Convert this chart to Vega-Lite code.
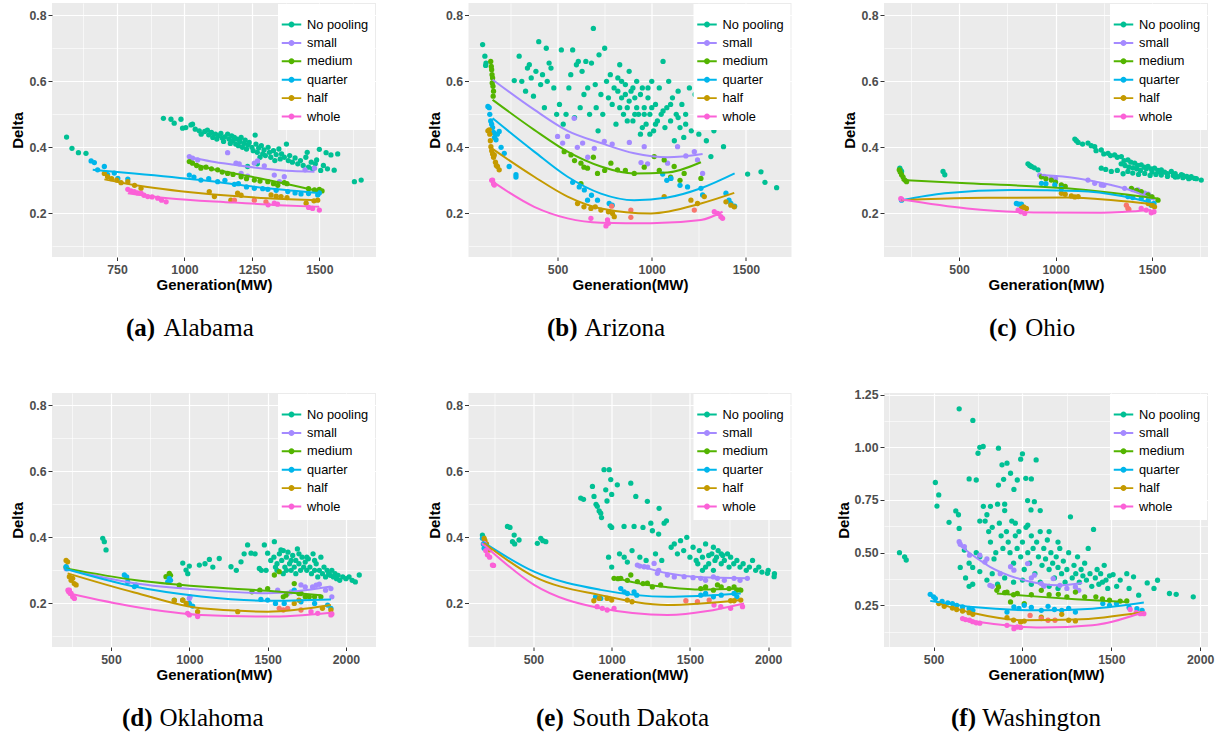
{
"$schema":"https://vega.github.io/schema/vega-lite/v6.json",
"padding":{"left":10,"top":3,"right":5,"bottom":2},
"resolve":{"scale":{"color":"independent"},"legend":{"color":"independent"}},
"concat":[
{"width":324,"height":254,
 "title":{"text":"(a)","subtitle":"\u200b\u00a0\u00a0\u00a0\u00a0\u00a0\u00a0Alabama","dx":-88,"align":"left","anchor":"middle"},
 "encoding":{
  "x":{"field":"x","type":"quantitative","title":"Generation(MW)","scale":{"domain":[509,1710],"nice":false,"zero":false},
       "axis":{"values":[625,750,875,1000,1125,1250,1375,1500,1625],"format":"d","labelExpr":"datum.value % 250 == 0 ? datum.label : ''",
               "gridWidth":{"condition":{"test":"datum.value % 250 == 0","value":1.2},"value":0.6},
               "tickOpacity":{"condition":{"test":"datum.value % 250 == 0","value":1},"value":0}}},
  "y":{"field":"y","type":"quantitative","title":"Delta","scale":{"domain":[0.068,0.837],"nice":false,"zero":false},
       "axis":{"values":[0.1,0.2,0.3,0.4,0.5,0.6,0.7,0.8],"format":".1f","labelExpr":"round(datum.value*10) % 2 == 0 ? datum.label : ''",
               "gridWidth":{"condition":{"test":"round(datum.value*10) % 2 == 0","value":1.2},"value":0.6},
               "tickOpacity":{"condition":{"test":"round(datum.value*10) % 2 == 0","value":1},"value":0}}}
 },
 "layer":[
  {"data":{"name":"pa"},"mark":{"type":"circle","size":28,"opacity":1},
   "encoding":{"color":{"field":"g","type":"nominal","scale":{"domain":["No pooling","small","medium","quarter","half","whole","other"],"range":["#00C094","#A58AFF","#53B400","#00B6EB","#C49A00","#FB61D7","#F8766D"]},
     "legend":{"title":" ","values":["No pooling","small","medium","quarter","half","whole"],"symbolType":"M-1.3,-0.13H1.3V0.13H-1.3Z M0.4,0A0.4,0.4,0,1,1,-0.4,0A0.4,0.4,0,1,1,0.4,0Z"}}}},
  {"data":{"name":"ca"},"mark":{"type":"line","strokeWidth":2,"interpolate":"monotone"},
   "encoding":{"color":{"field":"g","type":"nominal","scale":{"domain":["No pooling","small","medium","quarter","half","whole","other"],"range":["#00C094","#A58AFF","#53B400","#00B6EB","#C49A00","#FB61D7","#F8766D"]},"legend":null}}}
 ]},
{"width":323,"height":254,
 "title":{"text":"(b)","subtitle":"\u200b\u00a0\u00a0\u00a0\u00a0\u00a0\u00a0Arizona","dx":-83,"align":"left","anchor":"middle"},
 "encoding":{
  "x":{"field":"x","type":"quantitative","title":"Generation(MW)","scale":{"domain":[27,1742],"nice":false,"zero":false},
       "axis":{"values":[250,500,750,1000,1250,1500],"format":"d","labelExpr":"datum.value % 500 == 0 ? datum.label : ''",
               "gridWidth":{"condition":{"test":"datum.value % 500 == 0","value":1.2},"value":0.6},
               "tickOpacity":{"condition":{"test":"datum.value % 500 == 0","value":1},"value":0}}},
  "y":{"field":"y","type":"quantitative","title":"Delta","scale":{"domain":[0.068,0.837],"nice":false,"zero":false},
       "axis":{"values":[0.1,0.2,0.3,0.4,0.5,0.6,0.7,0.8],"format":".1f","labelExpr":"round(datum.value*10) % 2 == 0 ? datum.label : ''",
               "gridWidth":{"condition":{"test":"round(datum.value*10) % 2 == 0","value":1.2},"value":0.6},
               "tickOpacity":{"condition":{"test":"round(datum.value*10) % 2 == 0","value":1},"value":0}}}
 },
 "layer":[
  {"data":{"name":"pb"},"mark":{"type":"circle","size":28,"opacity":1},
   "encoding":{"color":{"field":"g","type":"nominal","scale":{"domain":["No pooling","small","medium","quarter","half","whole","other"],"range":["#00C094","#A58AFF","#53B400","#00B6EB","#C49A00","#FB61D7","#F8766D"]},
     "legend":{"title":" ","values":["No pooling","small","medium","quarter","half","whole"],"symbolType":"M-1.3,-0.13H1.3V0.13H-1.3Z M0.4,0A0.4,0.4,0,1,1,-0.4,0A0.4,0.4,0,1,1,0.4,0Z"}}}},
  {"data":{"name":"cb"},"mark":{"type":"line","strokeWidth":2,"interpolate":"monotone"},
   "encoding":{"color":{"field":"g","type":"nominal","scale":{"domain":["No pooling","small","medium","quarter","half","whole","other"],"range":["#00C094","#A58AFF","#53B400","#00B6EB","#C49A00","#FB61D7","#F8766D"]},"legend":null}}}
 ]},
{"width":324,"height":254,
 "title":{"text":"(c)","subtitle":"\u200b\u00a0\u00a0\u00a0\u00a0\u00a0\u2009Ohio","dx":-57,"align":"left","anchor":"middle"},
 "encoding":{
  "x":{"field":"x","type":"quantitative","title":"Generation(MW)","scale":{"domain":[111,1790],"nice":false,"zero":false},
       "axis":{"values":[250,500,750,1000,1250,1500,1750],"format":"d","labelExpr":"datum.value % 500 == 0 ? datum.label : ''",
               "gridWidth":{"condition":{"test":"datum.value % 500 == 0","value":1.2},"value":0.6},
               "tickOpacity":{"condition":{"test":"datum.value % 500 == 0","value":1},"value":0}}},
  "y":{"field":"y","type":"quantitative","title":"Delta","scale":{"domain":[0.068,0.837],"nice":false,"zero":false},
       "axis":{"values":[0.1,0.2,0.3,0.4,0.5,0.6,0.7,0.8],"format":".1f","labelExpr":"round(datum.value*10) % 2 == 0 ? datum.label : ''",
               "gridWidth":{"condition":{"test":"round(datum.value*10) % 2 == 0","value":1.2},"value":0.6},
               "tickOpacity":{"condition":{"test":"round(datum.value*10) % 2 == 0","value":1},"value":0}}}
 },
 "layer":[
  {"data":{"name":"pc"},"mark":{"type":"circle","size":28,"opacity":1},
   "encoding":{"color":{"field":"g","type":"nominal","scale":{"domain":["No pooling","small","medium","quarter","half","whole","other"],"range":["#00C094","#A58AFF","#53B400","#00B6EB","#C49A00","#FB61D7","#F8766D"]},
     "legend":{"title":" ","values":["No pooling","small","medium","quarter","half","whole"],"symbolType":"M-1.3,-0.13H1.3V0.13H-1.3Z M0.4,0A0.4,0.4,0,1,1,-0.4,0A0.4,0.4,0,1,1,0.4,0Z"}}}},
  {"data":{"name":"cc"},"mark":{"type":"line","strokeWidth":2,"interpolate":"monotone"},
   "encoding":{"color":{"field":"g","type":"nominal","scale":{"domain":["No pooling","small","medium","quarter","half","whole","other"],"range":["#00C094","#A58AFF","#53B400","#00B6EB","#C49A00","#FB61D7","#F8766D"]},"legend":null}}}
 ]},
{"width":324,"height":254,
 "title":{"text":"(d)","subtitle":"\u200b\u00a0\u00a0\u00a0\u00a0\u00a0\u00a0Oklahoma","dx":-92,"align":"left","anchor":"middle"},
 "encoding":{
  "x":{"field":"x","type":"quantitative","title":"Generation(MW)","scale":{"domain":[123,2192],"nice":false,"zero":false},
       "axis":{"values":[250,500,750,1000,1250,1500,1750,2000],"format":"d","labelExpr":"datum.value % 500 == 0 ? datum.label : ''",
               "gridWidth":{"condition":{"test":"datum.value % 500 == 0","value":1.2},"value":0.6},
               "tickOpacity":{"condition":{"test":"datum.value % 500 == 0","value":1},"value":0}}},
  "y":{"field":"y","type":"quantitative","title":"Delta","scale":{"domain":[0.068,0.837],"nice":false,"zero":false},
       "axis":{"values":[0.1,0.2,0.3,0.4,0.5,0.6,0.7,0.8],"format":".1f","labelExpr":"round(datum.value*10) % 2 == 0 ? datum.label : ''",
               "gridWidth":{"condition":{"test":"round(datum.value*10) % 2 == 0","value":1.2},"value":0.6},
               "tickOpacity":{"condition":{"test":"round(datum.value*10) % 2 == 0","value":1},"value":0}}}
 },
 "layer":[
  {"data":{"name":"pd"},"mark":{"type":"circle","size":28,"opacity":1},
   "encoding":{"color":{"field":"g","type":"nominal","scale":{"domain":["No pooling","small","medium","quarter","half","whole","other"],"range":["#00C094","#A58AFF","#53B400","#00B6EB","#C49A00","#FB61D7","#F8766D"]},
     "legend":{"title":" ","values":["No pooling","small","medium","quarter","half","whole"],"symbolType":"M-1.3,-0.13H1.3V0.13H-1.3Z M0.4,0A0.4,0.4,0,1,1,-0.4,0A0.4,0.4,0,1,1,0.4,0Z"}}}},
  {"data":{"name":"cd"},"mark":{"type":"line","strokeWidth":2,"interpolate":"monotone"},
   "encoding":{"color":{"field":"g","type":"nominal","scale":{"domain":["No pooling","small","medium","quarter","half","whole","other"],"range":["#00C094","#A58AFF","#53B400","#00B6EB","#C49A00","#FB61D7","#F8766D"]},"legend":null}}}
 ]},
{"width":323,"height":254,
 "title":{"text":"(e)","subtitle":"\u200b\u00a0\u00a0\u00a0\u00a0\u00a0\u2009South Dakota","dx":-94,"align":"left","anchor":"middle"},
 "encoding":{
  "x":{"field":"x","type":"quantitative","title":"Generation(MW)","scale":{"domain":[85,2149],"nice":false,"zero":false},
       "axis":{"values":[250,500,750,1000,1250,1500,1750,2000],"format":"d","labelExpr":"datum.value % 500 == 0 ? datum.label : ''",
               "gridWidth":{"condition":{"test":"datum.value % 500 == 0","value":1.2},"value":0.6},
               "tickOpacity":{"condition":{"test":"datum.value % 500 == 0","value":1},"value":0}}},
  "y":{"field":"y","type":"quantitative","title":"Delta","scale":{"domain":[0.068,0.837],"nice":false,"zero":false},
       "axis":{"values":[0.1,0.2,0.3,0.4,0.5,0.6,0.7,0.8],"format":".1f","labelExpr":"round(datum.value*10) % 2 == 0 ? datum.label : ''",
               "gridWidth":{"condition":{"test":"round(datum.value*10) % 2 == 0","value":1.2},"value":0.6},
               "tickOpacity":{"condition":{"test":"round(datum.value*10) % 2 == 0","value":1},"value":0}}}
 },
 "layer":[
  {"data":{"name":"pe"},"mark":{"type":"circle","size":28,"opacity":1},
   "encoding":{"color":{"field":"g","type":"nominal","scale":{"domain":["No pooling","small","medium","quarter","half","whole","other"],"range":["#00C094","#A58AFF","#53B400","#00B6EB","#C49A00","#FB61D7","#F8766D"]},
     "legend":{"title":" ","values":["No pooling","small","medium","quarter","half","whole"],"symbolType":"M-1.3,-0.13H1.3V0.13H-1.3Z M0.4,0A0.4,0.4,0,1,1,-0.4,0A0.4,0.4,0,1,1,0.4,0Z"}}}},
  {"data":{"name":"ce"},"mark":{"type":"line","strokeWidth":2,"interpolate":"monotone"},
   "encoding":{"color":{"field":"g","type":"nominal","scale":{"domain":["No pooling","small","medium","quarter","half","whole","other"],"range":["#00C094","#A58AFF","#53B400","#00B6EB","#C49A00","#FB61D7","#F8766D"]},"legend":null}}}
 ]},
{"width":324,"height":254,
 "title":{"text":"(f)","subtitle":"\u200b\u00a0\u00a0\u00a0\u00a0\u00a0Washington","dx":-95,"align":"left","anchor":"middle"},
 "encoding":{
  "x":{"field":"x","type":"quantitative","title":"Generation(MW)","scale":{"domain":[221,2044],"nice":false,"zero":false},
       "axis":{"values":[250,500,750,1000,1250,1500,1750,2000],"format":"d","labelExpr":"datum.value % 500 == 0 ? datum.label : ''",
               "gridWidth":{"condition":{"test":"datum.value % 500 == 0","value":1.2},"value":0.6},
               "tickOpacity":{"condition":{"test":"datum.value % 500 == 0","value":1},"value":0}}},
  "y":{"field":"y","type":"quantitative","title":"Delta","scale":{"domain":[0.052,1.258],"nice":false,"zero":false},
       "axis":{"values":[0.125,0.25,0.375,0.5,0.625,0.75,0.875,1.0,1.125,1.25],"format":".2f","labelExpr":"round(datum.value*8) % 2 == 0 ? datum.label : ''",
               "gridWidth":{"condition":{"test":"round(datum.value*8) % 2 == 0","value":1.2},"value":0.6},
               "tickOpacity":{"condition":{"test":"round(datum.value*8) % 2 == 0","value":1},"value":0}}}
 },
 "layer":[
  {"data":{"name":"pf"},"mark":{"type":"circle","size":28,"opacity":1},
   "encoding":{"color":{"field":"g","type":"nominal","scale":{"domain":["No pooling","small","medium","quarter","half","whole","other"],"range":["#00C094","#A58AFF","#53B400","#00B6EB","#C49A00","#FB61D7","#F8766D"]},
     "legend":{"title":" ","values":["No pooling","small","medium","quarter","half","whole"],"symbolType":"M-1.3,-0.13H1.3V0.13H-1.3Z M0.4,0A0.4,0.4,0,1,1,-0.4,0A0.4,0.4,0,1,1,0.4,0Z"}}}},
  {"data":{"name":"cf"},"mark":{"type":"line","strokeWidth":2,"interpolate":"monotone"},
   "encoding":{"color":{"field":"g","type":"nominal","scale":{"domain":["No pooling","small","medium","quarter","half","whole","other"],"range":["#00C094","#A58AFF","#53B400","#00B6EB","#C49A00","#FB61D7","#F8766D"]},"legend":null}}}
 ]}
],
"columns":3,
"spacing":{"row":136,"column":92.5},
"bounds":"flush",
"datasets":{
"pa":[
{"g":"No pooling","x":563,"y":0.431},{"g":"No pooling","x":583,"y":0.397},{"g":"No pooling","x":607,"y":0.384},{"g":"No pooling","x":635,"y":0.382},
{"g":"No pooling","x":922,"y":0.488},{"g":"No pooling","x":950,"y":0.485},{"g":"No pooling","x":962,"y":0.473},{"g":"No pooling","x":987,"y":0.485},{"g":"No pooling","x":993,"y":0.458},{"g":"No pooling","x":1005,"y":0.46},{"g":"No pooling","x":1024,"y":0.468},{"g":"No pooling","x":1030,"y":0.47},{"g":"No pooling","x":1040,"y":0.455},{"g":"No pooling","x":1055,"y":0.45},{"g":"No pooling","x":1062,"y":0.44},{"g":"No pooling","x":1075,"y":0.448},{"g":"No pooling","x":1085,"y":0.452},{"g":"No pooling","x":1090,"y":0.438},{"g":"No pooling","x":1100,"y":0.445},{"g":"No pooling","x":1105,"y":0.43},{"g":"No pooling","x":1115,"y":0.44},{"g":"No pooling","x":1120,"y":0.425},{"g":"No pooling","x":1125,"y":0.435},{"g":"No pooling","x":1135,"y":0.442},{"g":"No pooling","x":1140,"y":0.428},{"g":"No pooling","x":1145,"y":0.418},{"g":"No pooling","x":1150,"y":0.432},{"g":"No pooling","x":1160,"y":0.44},{"g":"No pooling","x":1165,"y":0.425},{"g":"No pooling","x":1170,"y":0.412},{"g":"No pooling","x":1175,"y":0.435},{"g":"No pooling","x":1180,"y":0.42},{"g":"No pooling","x":1185,"y":0.43},{"g":"No pooling","x":1190,"y":0.41},{"g":"No pooling","x":1195,"y":0.425},{"g":"No pooling","x":1200,"y":0.405},{"g":"No pooling","x":1205,"y":0.418},{"g":"No pooling","x":1210,"y":0.43},{"g":"No pooling","x":1215,"y":0.4},{"g":"No pooling","x":1220,"y":0.412},{"g":"No pooling","x":1225,"y":0.422},{"g":"No pooling","x":1230,"y":0.395},{"g":"No pooling","x":1235,"y":0.408},{"g":"No pooling","x":1240,"y":0.415},{"g":"No pooling","x":1234,"y":0.342},{"g":"No pooling","x":1250,"y":0.4},{"g":"No pooling","x":1255,"y":0.39},{"g":"No pooling","x":1262,"y":0.437},{"g":"No pooling","x":1265,"y":0.41},{"g":"No pooling","x":1270,"y":0.385},{"g":"No pooling","x":1270,"y":0.35},{"g":"No pooling","x":1275,"y":0.398},{"g":"No pooling","x":1280,"y":0.37},{"g":"No pooling","x":1285,"y":0.405},{"g":"No pooling","x":1290,"y":0.38},{"g":"No pooling","x":1295,"y":0.392},{"g":"No pooling","x":1300,"y":0.375},{"g":"No pooling","x":1310,"y":0.4},{"g":"No pooling","x":1315,"y":0.385},{"g":"No pooling","x":1320,"y":0.37},{"g":"No pooling","x":1330,"y":0.39},{"g":"No pooling","x":1335,"y":0.36},{"g":"No pooling","x":1340,"y":0.378},{"g":"No pooling","x":1350,"y":0.395},{"g":"No pooling","x":1355,"y":0.365},{"g":"No pooling","x":1360,"y":0.38},{"g":"No pooling","x":1370,"y":0.37},{"g":"No pooling","x":1378,"y":0.41},{"g":"No pooling","x":1385,"y":0.36},{"g":"No pooling","x":1390,"y":0.375},{"g":"No pooling","x":1400,"y":0.355},{"g":"No pooling","x":1410,"y":0.368},{"g":"No pooling","x":1420,"y":0.35},{"g":"No pooling","x":1430,"y":0.36},{"g":"No pooling","x":1440,"y":0.345},{"g":"No pooling","x":1450,"y":0.37},{"g":"No pooling","x":1455,"y":0.385},{"g":"No pooling","x":1460,"y":0.34},{"g":"No pooling","x":1470,"y":0.355},{"g":"No pooling","x":1475,"y":0.335},{"g":"No pooling","x":1485,"y":0.35},{"g":"No pooling","x":1490,"y":0.362},{"g":"No pooling","x":1500,"y":0.394},{"g":"No pooling","x":1505,"y":0.33},{"g":"No pooling","x":1515,"y":0.345},{"g":"No pooling","x":1525,"y":0.384},{"g":"No pooling","x":1530,"y":0.335},{"g":"No pooling","x":1543,"y":0.377},{"g":"No pooling","x":1555,"y":0.331},{"g":"No pooling","x":1568,"y":0.38},{"g":"No pooling","x":1630,"y":0.296},{"g":"No pooling","x":1655,"y":0.301},
{"g":"small","x":1018,"y":0.372},{"g":"small","x":1030,"y":0.367},{"g":"small","x":1049,"y":0.362},{"g":"small","x":1160,"y":0.384},{"g":"small","x":1191,"y":0.352},{"g":"small","x":1203,"y":0.35},{"g":"small","x":1210,"y":0.321},{"g":"small","x":1234,"y":0.313},{"g":"small","x":1259,"y":0.352},{"g":"small","x":1271,"y":0.359},{"g":"small","x":1296,"y":0.344},{"g":"small","x":1333,"y":0.316},{"g":"small","x":1352,"y":0.296},{"g":"small","x":1370,"y":0.311},{"g":"small","x":1447,"y":0.332},{"g":"small","x":1482,"y":0.337},
{"g":"medium","x":1018,"y":0.357},{"g":"medium","x":1030,"y":0.352},{"g":"medium","x":1045,"y":0.345},{"g":"medium","x":1061,"y":0.337},{"g":"medium","x":1080,"y":0.34},{"g":"medium","x":1100,"y":0.335},{"g":"medium","x":1123,"y":0.332},{"g":"medium","x":1140,"y":0.325},{"g":"medium","x":1160,"y":0.321},{"g":"medium","x":1180,"y":0.318},{"g":"medium","x":1210,"y":0.311},{"g":"medium","x":1230,"y":0.305},{"g":"medium","x":1259,"y":0.301},{"g":"medium","x":1280,"y":0.298},{"g":"medium","x":1309,"y":0.296},{"g":"medium","x":1330,"y":0.29},{"g":"medium","x":1346,"y":0.285},{"g":"medium","x":1370,"y":0.293},{"g":"medium","x":1380,"y":0.29},{"g":"medium","x":1460,"y":0.275},{"g":"medium","x":1482,"y":0.271},{"g":"medium","x":1500,"y":0.273},{"g":"medium","x":1510,"y":0.268},
{"g":"quarter","x":654,"y":0.359},{"g":"quarter","x":666,"y":0.354},{"g":"quarter","x":678,"y":0.332},{"g":"quarter","x":703,"y":0.342},{"g":"quarter","x":715,"y":0.317},{"g":"quarter","x":740,"y":0.322},{"g":"quarter","x":753,"y":0.306},{"g":"quarter","x":790,"y":0.304},{"g":"quarter","x":1018,"y":0.316},{"g":"quarter","x":1035,"y":0.31},{"g":"quarter","x":1061,"y":0.301},{"g":"quarter","x":1090,"y":0.305},{"g":"quarter","x":1123,"y":0.296},{"g":"quarter","x":1150,"y":0.3},{"g":"quarter","x":1185,"y":0.288},{"g":"quarter","x":1200,"y":0.29},{"g":"quarter","x":1230,"y":0.28},{"g":"quarter","x":1259,"y":0.276},{"g":"quarter","x":1290,"y":0.275},{"g":"quarter","x":1309,"y":0.273},{"g":"quarter","x":1340,"y":0.27},{"g":"quarter","x":1383,"y":0.266},{"g":"quarter","x":1410,"y":0.262},{"g":"quarter","x":1432,"y":0.259},{"g":"quarter","x":1460,"y":0.26},{"g":"quarter","x":1494,"y":0.256},{"g":"quarter","x":1500,"y":0.262},
{"g":"half","x":703,"y":0.321},{"g":"half","x":715,"y":0.311},{"g":"half","x":730,"y":0.305},{"g":"half","x":749,"y":0.301},{"g":"half","x":765,"y":0.293},{"g":"half","x":790,"y":0.296},{"g":"half","x":815,"y":0.285},{"g":"half","x":839,"y":0.276},{"g":"half","x":1092,"y":0.266},{"g":"half","x":1111,"y":0.251},{"g":"half","x":1172,"y":0.24},{"g":"half","x":1197,"y":0.261},{"g":"half","x":1210,"y":0.255},{"g":"half","x":1321,"y":0.256},{"g":"half","x":1340,"y":0.252},{"g":"half","x":1358,"y":0.251},{"g":"half","x":1380,"y":0.248},{"g":"half","x":1451,"y":0.231},{"g":"half","x":1480,"y":0.238},{"g":"half","x":1494,"y":0.24},
{"g":"whole","x":790,"y":0.273},{"g":"whole","x":802,"y":0.268},{"g":"whole","x":814,"y":0.266},{"g":"whole","x":826,"y":0.262},{"g":"whole","x":839,"y":0.261},{"g":"whole","x":850,"y":0.255},{"g":"whole","x":864,"y":0.251},{"g":"whole","x":880,"y":0.25},{"g":"whole","x":901,"y":0.246},{"g":"whole","x":915,"y":0.24},{"g":"whole","x":932,"y":0.235},{"g":"whole","x":1310,"y":0.226},{"g":"whole","x":1333,"y":0.231},{"g":"whole","x":1345,"y":0.228},{"g":"whole","x":1460,"y":0.218},{"g":"whole","x":1475,"y":0.215},{"g":"whole","x":1500,"y":0.21},
{"g":"other","x":1185,"y":0.24},{"g":"other","x":1259,"y":0.24},{"g":"other","x":1302,"y":0.235}
],
"ca":[
{"g":"small","x":1012,"y":0.372},{"g":"small","x":1100,"y":0.357},{"g":"small","x":1185,"y":0.347},{"g":"small","x":1300,"y":0.335},{"g":"small","x":1400,"y":0.328},{"g":"small","x":1482,"y":0.326},
{"g":"medium","x":1018,"y":0.355},{"g":"medium","x":1100,"y":0.335},{"g":"medium","x":1185,"y":0.321},{"g":"medium","x":1309,"y":0.301},{"g":"medium","x":1400,"y":0.285},{"g":"medium","x":1494,"y":0.268},
{"g":"quarter","x":660,"y":0.332},{"g":"quarter","x":814,"y":0.321},{"g":"quarter","x":1061,"y":0.301},{"g":"quarter","x":1309,"y":0.276},{"g":"quarter","x":1506,"y":0.261},
{"g":"half","x":703,"y":0.303},{"g":"half","x":814,"y":0.286},{"g":"half","x":1061,"y":0.261},{"g":"half","x":1309,"y":0.246},{"g":"half","x":1500,"y":0.24},
{"g":"whole","x":790,"y":0.261},{"g":"whole","x":938,"y":0.246},{"g":"whole","x":1185,"y":0.233},{"g":"whole","x":1350,"y":0.225},{"g":"whole","x":1500,"y":0.22}
],
"pb":[
{"g":"No pooling","x":102,"y":0.711},{"g":"No pooling","x":114,"y":0.676},{"g":"No pooling","x":118,"y":0.648},{"g":"No pooling","x":120,"y":0.655},
{"g":"No pooling","x":270,"y":0.602},{"g":"No pooling","x":296,"y":0.676},{"g":"No pooling","x":310,"y":0.6},{"g":"No pooling","x":330,"y":0.57},{"g":"No pooling","x":340,"y":0.64},{"g":"No pooling","x":350,"y":0.65},{"g":"No pooling","x":360,"y":0.61},{"g":"No pooling","x":372,"y":0.555},{"g":"No pooling","x":385,"y":0.63},{"g":"No pooling","x":400,"y":0.72},{"g":"No pooling","x":410,"y":0.59},{"g":"No pooling","x":420,"y":0.62},{"g":"No pooling","x":430,"y":0.52},{"g":"No pooling","x":440,"y":0.7},{"g":"No pooling","x":445,"y":0.6},{"g":"No pooling","x":455,"y":0.655},{"g":"No pooling","x":465,"y":0.64},{"g":"No pooling","x":480,"y":0.58},{"g":"No pooling","x":495,"y":0.5},{"g":"No pooling","x":510,"y":0.53},{"g":"No pooling","x":520,"y":0.695},{"g":"No pooling","x":530,"y":0.47},{"g":"No pooling","x":545,"y":0.5},{"g":"No pooling","x":560,"y":0.58},{"g":"No pooling","x":570,"y":0.62},{"g":"No pooling","x":580,"y":0.695},{"g":"No pooling","x":590,"y":0.49},{"g":"No pooling","x":600,"y":0.65},{"g":"No pooling","x":610,"y":0.66},{"g":"No pooling","x":620,"y":0.52},{"g":"No pooling","x":630,"y":0.63},{"g":"No pooling","x":640,"y":0.56},{"g":"No pooling","x":650,"y":0.66},{"g":"No pooling","x":660,"y":0.58},{"g":"No pooling","x":670,"y":0.5},{"g":"No pooling","x":680,"y":0.655},{"g":"No pooling","x":690,"y":0.76},{"g":"No pooling","x":700,"y":0.59},{"g":"No pooling","x":705,"y":0.52},{"g":"No pooling","x":715,"y":0.45},{"g":"No pooling","x":720,"y":0.68},{"g":"No pooling","x":730,"y":0.56},{"g":"No pooling","x":740,"y":0.5},{"g":"No pooling","x":750,"y":0.7},{"g":"No pooling","x":760,"y":0.6},{"g":"No pooling","x":770,"y":0.55},{"g":"No pooling","x":780,"y":0.62},{"g":"No pooling","x":790,"y":0.53},{"g":"No pooling","x":800,"y":0.58},{"g":"No pooling","x":810,"y":0.47},{"g":"No pooling","x":820,"y":0.61},{"g":"No pooling","x":830,"y":0.65},{"g":"No pooling","x":840,"y":0.55},{"g":"No pooling","x":850,"y":0.5},{"g":"No pooling","x":860,"y":0.59},{"g":"No pooling","x":870,"y":0.52},{"g":"No pooling","x":880,"y":0.63},{"g":"No pooling","x":890,"y":0.57},{"g":"No pooling","x":900,"y":0.48},{"g":"No pooling","x":910,"y":0.55},{"g":"No pooling","x":920,"y":0.6},{"g":"No pooling","x":930,"y":0.5},{"g":"No pooling","x":940,"y":0.44},{"g":"No pooling","x":950,"y":0.58},{"g":"No pooling","x":960,"y":0.52},{"g":"No pooling","x":970,"y":0.47},{"g":"No pooling","x":980,"y":0.55},{"g":"No pooling","x":990,"y":0.5},{"g":"No pooling","x":1000,"y":0.6},{"g":"No pooling","x":1010,"y":0.45},{"g":"No pooling","x":1020,"y":0.53},{"g":"No pooling","x":1030,"y":0.48},{"g":"No pooling","x":1040,"y":0.58},{"g":"No pooling","x":1050,"y":0.5},{"g":"No pooling","x":1060,"y":0.66},{"g":"No pooling","x":1070,"y":0.46},{"g":"No pooling","x":1080,"y":0.52},{"g":"No pooling","x":1090,"y":0.6},{"g":"No pooling","x":1100,"y":0.48},{"g":"No pooling","x":1110,"y":0.55},{"g":"No pooling","x":1120,"y":0.42},{"g":"No pooling","x":1130,"y":0.5},{"g":"No pooling","x":1140,"y":0.57},{"g":"No pooling","x":1150,"y":0.46},{"g":"No pooling","x":1160,"y":0.53},{"g":"No pooling","x":1170,"y":0.43},{"g":"No pooling","x":1180,"y":0.5},{"g":"No pooling","x":1200,"y":0.58},{"g":"No pooling","x":1210,"y":0.45},{"g":"No pooling","x":1230,"y":0.56},{"g":"No pooling","x":1250,"y":0.44},{"g":"No pooling","x":1270,"y":0.5},{"g":"No pooling","x":1290,"y":0.42},{"g":"No pooling","x":1314,"y":0.372},{"g":"No pooling","x":1330,"y":0.45},{"g":"No pooling","x":1381,"y":0.402},{"g":"No pooling","x":1509,"y":0.319},{"g":"No pooling","x":1580,"y":0.326},{"g":"No pooling","x":1601,"y":0.294},{"g":"No pooling","x":1663,"y":0.278},
{"g":"No pooling","x":820,"y":0.57},{"g":"No pooling","x":840,"y":0.6},{"g":"No pooling","x":860,"y":0.56},{"g":"No pooling","x":880,"y":0.54},{"g":"No pooling","x":900,"y":0.58},{"g":"No pooling","x":920,"y":0.52},{"g":"No pooling","x":940,"y":0.56},{"g":"No pooling","x":960,"y":0.5},{"g":"No pooling","x":980,"y":0.58},{"g":"No pooling","x":1000,"y":0.52},{"g":"No pooling","x":830,"y":0.52},{"g":"No pooling","x":870,"y":0.48},{"g":"No pooling","x":910,"y":0.5},{"g":"No pooling","x":950,"y":0.46},{"g":"No pooling","x":990,"y":0.44},{"g":"No pooling","x":1020,"y":0.47},{"g":"No pooling","x":1060,"y":0.51},{"g":"No pooling","x":1100,"y":0.53},{"g":"No pooling","x":1140,"y":0.49},{"g":"No pooling","x":1180,"y":0.47},
{"g":"small","x":500,"y":0.433},{"g":"small","x":527,"y":0.413},{"g":"small","x":553,"y":0.433},{"g":"small","x":588,"y":0.488},{"g":"small","x":605,"y":0.4},{"g":"small","x":633,"y":0.413},{"g":"small","x":660,"y":0.37},{"g":"small","x":695,"y":0.397},{"g":"small","x":748,"y":0.418},{"g":"small","x":790,"y":0.41},{"g":"small","x":881,"y":0.415},{"g":"small","x":943,"y":0.354},{"g":"small","x":960,"y":0.402},{"g":"small","x":978,"y":0.35},{"g":"small","x":1084,"y":0.352},{"g":"small","x":1137,"y":0.402},{"g":"small","x":1181,"y":0.374},{"g":"small","x":1226,"y":0.387},{"g":"small","x":1243,"y":0.362},{"g":"small","x":1270,"y":0.321},
{"g":"medium","x":145,"y":0.66},{"g":"medium","x":148,"y":0.645},{"g":"medium","x":150,"y":0.635},{"g":"medium","x":152,"y":0.62},{"g":"medium","x":155,"y":0.61},{"g":"medium","x":153,"y":0.595},{"g":"medium","x":157,"y":0.585},{"g":"medium","x":160,"y":0.57},{"g":"medium","x":158,"y":0.555},{"g":"medium","x":535,"y":0.387},{"g":"medium","x":571,"y":0.377},{"g":"medium","x":590,"y":0.36},{"g":"medium","x":624,"y":0.352},{"g":"medium","x":624,"y":0.29},{"g":"medium","x":640,"y":0.34},{"g":"medium","x":659,"y":0.337},{"g":"medium","x":690,"y":0.37},{"g":"medium","x":712,"y":0.321},{"g":"medium","x":750,"y":0.33},{"g":"medium","x":783,"y":0.352},{"g":"medium","x":818,"y":0.332},{"g":"medium","x":860,"y":0.33},{"g":"medium","x":907,"y":0.321},{"g":"medium","x":960,"y":0.34},{"g":"medium","x":1013,"y":0.372},{"g":"medium","x":1040,"y":0.33},{"g":"medium","x":1066,"y":0.362},{"g":"medium","x":1100,"y":0.31},{"g":"medium","x":1119,"y":0.342},{"g":"medium","x":1150,"y":0.3},{"g":"medium","x":1172,"y":0.321},{"g":"medium","x":1261,"y":0.306},
{"g":"quarter","x":130,"y":0.524},{"g":"quarter","x":137,"y":0.52},{"g":"quarter","x":140,"y":0.5},{"g":"quarter","x":145,"y":0.48},{"g":"quarter","x":150,"y":0.47},{"g":"quarter","x":155,"y":0.46},{"g":"quarter","x":160,"y":0.445},{"g":"quarter","x":165,"y":0.43},{"g":"quarter","x":173,"y":0.423},{"g":"quarter","x":180,"y":0.44},{"g":"quarter","x":190,"y":0.448},{"g":"quarter","x":200,"y":0.4},{"g":"quarter","x":217,"y":0.382},{"g":"quarter","x":243,"y":0.342},{"g":"quarter","x":279,"y":0.317},{"g":"quarter","x":279,"y":0.31},{"g":"quarter","x":580,"y":0.294},{"g":"quarter","x":615,"y":0.28},{"g":"quarter","x":642,"y":0.271},{"g":"quarter","x":659,"y":0.24},{"g":"quarter","x":680,"y":0.255},{"g":"quarter","x":712,"y":0.24},{"g":"quarter","x":774,"y":0.23},{"g":"quarter","x":790,"y":0.225},{"g":"quarter","x":1058,"y":0.319},{"g":"quarter","x":1080,"y":0.3},{"g":"quarter","x":1102,"y":0.306},{"g":"quarter","x":1150,"y":0.285},{"g":"quarter","x":1190,"y":0.28},{"g":"quarter","x":1261,"y":0.276},{"g":"quarter","x":1270,"y":0.256},{"g":"quarter","x":1394,"y":0.261},{"g":"quarter","x":1410,"y":0.24},{"g":"quarter","x":1420,"y":0.23},{"g":"quarter","x":1440,"y":0.222},
{"g":"half","x":130,"y":0.45},{"g":"half","x":137,"y":0.453},{"g":"half","x":140,"y":0.44},{"g":"half","x":143,"y":0.42},{"g":"half","x":146,"y":0.402},{"g":"half","x":150,"y":0.39},{"g":"half","x":155,"y":0.38},{"g":"half","x":160,"y":0.37},{"g":"half","x":164,"y":0.377},{"g":"half","x":170,"y":0.355},{"g":"half","x":175,"y":0.345},{"g":"half","x":181,"y":0.342},{"g":"half","x":190,"y":0.332},{"g":"half","x":606,"y":0.23},{"g":"half","x":640,"y":0.22},{"g":"half","x":677,"y":0.215},{"g":"half","x":700,"y":0.22},{"g":"half","x":730,"y":0.21},{"g":"half","x":770,"y":0.205},{"g":"half","x":792,"y":0.2},{"g":"half","x":801,"y":0.19},{"g":"half","x":1066,"y":0.251},{"g":"half","x":1208,"y":0.24},{"g":"half","x":1243,"y":0.23},{"g":"half","x":1279,"y":0.251},{"g":"half","x":1394,"y":0.235},{"g":"half","x":1420,"y":0.225},{"g":"half","x":1438,"y":0.22},
{"g":"whole","x":150,"y":0.3},{"g":"whole","x":155,"y":0.301},{"g":"whole","x":160,"y":0.29},{"g":"whole","x":164,"y":0.286},{"g":"whole","x":677,"y":0.185},{"g":"whole","x":765,"y":0.18},{"g":"whole","x":757,"y":0.162},{"g":"whole","x":770,"y":0.17},{"g":"whole","x":1332,"y":0.205},{"g":"whole","x":1350,"y":0.2},{"g":"whole","x":1367,"y":0.19},{"g":"whole","x":1376,"y":0.185},
{"g":"other","x":787,"y":0.222},{"g":"other","x":889,"y":0.21},{"g":"other","x":889,"y":0.188},{"g":"other","x":1226,"y":0.21}
],
"cb":[
{"g":"small","x":155,"y":0.605},{"g":"small","x":376,"y":0.514},{"g":"small","x":553,"y":0.45},{"g":"small","x":730,"y":0.413},{"g":"small","x":907,"y":0.382},{"g":"small","x":1084,"y":0.37},{"g":"small","x":1270,"y":0.38},
{"g":"medium","x":155,"y":0.544},{"g":"medium","x":376,"y":0.453},{"g":"medium","x":553,"y":0.387},{"g":"medium","x":730,"y":0.342},{"g":"medium","x":907,"y":0.321},{"g":"medium","x":1084,"y":0.324},{"g":"medium","x":1261,"y":0.355},
{"g":"quarter","x":155,"y":0.488},{"g":"quarter","x":376,"y":0.387},{"g":"quarter","x":553,"y":0.311},{"g":"quarter","x":730,"y":0.26},{"g":"quarter","x":907,"y":0.24},{"g":"quarter","x":1084,"y":0.248},{"g":"quarter","x":1261,"y":0.276},{"g":"quarter","x":1440,"y":0.321},
{"g":"half","x":137,"y":0.402},{"g":"half","x":376,"y":0.311},{"g":"half","x":553,"y":0.251},{"g":"half","x":730,"y":0.215},{"g":"half","x":996,"y":0.2},{"g":"half","x":1261,"y":0.23},{"g":"half","x":1438,"y":0.262},
{"g":"whole","x":155,"y":0.296},{"g":"whole","x":376,"y":0.22},{"g":"whole","x":553,"y":0.185},{"g":"whole","x":730,"y":0.172},{"g":"whole","x":996,"y":0.17},{"g":"whole","x":1261,"y":0.18},{"g":"whole","x":1376,"y":0.205}
],
"pc":[
{"g":"No pooling","x":193,"y":0.337},{"g":"No pooling","x":198,"y":0.33},{"g":"No pooling","x":202,"y":0.327},{"g":"No pooling","x":417,"y":0.327},{"g":"No pooling","x":426,"y":0.317},{"g":"No pooling","x":857,"y":0.35},{"g":"No pooling","x":866,"y":0.345},{"g":"No pooling","x":875,"y":0.342},{"g":"No pooling","x":890,"y":0.338},{"g":"No pooling","x":909,"y":0.332},
{"g":"No pooling","x":1100,"y":0.425},{"g":"No pooling","x":1108,"y":0.42},{"g":"No pooling","x":1117,"y":0.415},{"g":"No pooling","x":1140,"y":0.41},{"g":"No pooling","x":1168,"y":0.413},{"g":"No pooling","x":1185,"y":0.405},{"g":"No pooling","x":1203,"y":0.402},{"g":"No pooling","x":1210,"y":0.39},{"g":"No pooling","x":1237,"y":0.392},{"g":"No pooling","x":1250,"y":0.38},{"g":"No pooling","x":1272,"y":0.382},{"g":"No pooling","x":1285,"y":0.375},{"g":"No pooling","x":1306,"y":0.377},{"g":"No pooling","x":1320,"y":0.37},{"g":"No pooling","x":1341,"y":0.372},{"g":"No pooling","x":1355,"y":0.36},{"g":"No pooling","x":1375,"y":0.362},{"g":"No pooling","x":1390,"y":0.355},{"g":"No pooling","x":1410,"y":0.352},{"g":"No pooling","x":1425,"y":0.345},{"g":"No pooling","x":1444,"y":0.347},{"g":"No pooling","x":1460,"y":0.34},{"g":"No pooling","x":1479,"y":0.342},{"g":"No pooling","x":1495,"y":0.335},{"g":"No pooling","x":1513,"y":0.337},{"g":"No pooling","x":1530,"y":0.33},{"g":"No pooling","x":1548,"y":0.332},{"g":"No pooling","x":1565,"y":0.325},{"g":"No pooling","x":1600,"y":0.327},{"g":"No pooling","x":1620,"y":0.32},{"g":"No pooling","x":1652,"y":0.317},{"g":"No pooling","x":1680,"y":0.312},{"g":"No pooling","x":1703,"y":0.311},{"g":"No pooling","x":1730,"y":0.305},{"g":"No pooling","x":1755,"y":0.301},
{"g":"No pooling","x":1237,"y":0.337},{"g":"No pooling","x":1260,"y":0.333},{"g":"No pooling","x":1289,"y":0.327},{"g":"No pooling","x":1320,"y":0.33},{"g":"No pooling","x":1350,"y":0.32},{"g":"No pooling","x":1375,"y":0.327},{"g":"No pooling","x":1400,"y":0.322},{"g":"No pooling","x":1430,"y":0.318},{"g":"No pooling","x":1462,"y":0.321},{"g":"No pooling","x":1490,"y":0.315},{"g":"No pooling","x":1520,"y":0.318},{"g":"No pooling","x":1548,"y":0.316},{"g":"No pooling","x":1580,"y":0.312},{"g":"No pooling","x":1610,"y":0.315},{"g":"No pooling","x":1634,"y":0.311},{"g":"No pooling","x":1660,"y":0.308},{"g":"No pooling","x":1690,"y":0.305},{"g":"No pooling","x":1721,"y":0.306},
{"g":"No pooling","x":1340,"y":0.35},{"g":"No pooling","x":1360,"y":0.345},{"g":"No pooling","x":1380,"y":0.34},{"g":"No pooling","x":1400,"y":0.338},{"g":"No pooling","x":1420,"y":0.335},{"g":"No pooling","x":1440,"y":0.33},{"g":"No pooling","x":1470,"y":0.335},{"g":"No pooling","x":1500,"y":0.325},{"g":"No pooling","x":1540,"y":0.325},{"g":"No pooling","x":1580,"y":0.32},{"g":"No pooling","x":1620,"y":0.31},{"g":"No pooling","x":1660,"y":0.315},{"g":"No pooling","x":1700,"y":0.308},
{"g":"small","x":918,"y":0.316},{"g":"small","x":940,"y":0.312},{"g":"small","x":978,"y":0.306},{"g":"small","x":1000,"y":0.305},{"g":"small","x":1168,"y":0.301},{"g":"small","x":1203,"y":0.291},{"g":"small","x":1237,"y":0.286},{"g":"small","x":1250,"y":0.285},{"g":"small","x":1358,"y":0.276},{"g":"small","x":1400,"y":0.272},{"g":"small","x":1427,"y":0.271},{"g":"small","x":1462,"y":0.261},{"g":"small","x":1480,"y":0.258},{"g":"small","x":1496,"y":0.251},
{"g":"medium","x":190,"y":0.332},{"g":"medium","x":195,"y":0.325},{"g":"medium","x":202,"y":0.317},{"g":"medium","x":210,"y":0.31},{"g":"medium","x":219,"y":0.301},{"g":"medium","x":228,"y":0.296},{"g":"medium","x":927,"y":0.311},{"g":"medium","x":950,"y":0.305},{"g":"medium","x":978,"y":0.301},{"g":"medium","x":1000,"y":0.295},{"g":"medium","x":1030,"y":0.286},{"g":"medium","x":1050,"y":0.282},{"g":"medium","x":1393,"y":0.276},{"g":"medium","x":1420,"y":0.27},{"g":"medium","x":1444,"y":0.266},{"g":"medium","x":1479,"y":0.256},{"g":"medium","x":1500,"y":0.25},{"g":"medium","x":1531,"y":0.24},
{"g":"quarter","x":202,"y":0.24},{"g":"quarter","x":797,"y":0.23},{"g":"quarter","x":810,"y":0.228},{"g":"quarter","x":823,"y":0.228},{"g":"quarter","x":927,"y":0.291},{"g":"quarter","x":950,"y":0.29},{"g":"quarter","x":996,"y":0.286},{"g":"quarter","x":1030,"y":0.276},{"g":"quarter","x":1375,"y":0.251},{"g":"quarter","x":1400,"y":0.248},{"g":"quarter","x":1444,"y":0.245},{"g":"quarter","x":1480,"y":0.24},{"g":"quarter","x":1496,"y":0.225},{"g":"quarter","x":1510,"y":0.23},
{"g":"half","x":823,"y":0.215},{"g":"half","x":835,"y":0.22},{"g":"half","x":849,"y":0.215},{"g":"half","x":1030,"y":0.261},{"g":"half","x":1050,"y":0.258},{"g":"half","x":1082,"y":0.253},{"g":"half","x":1100,"y":0.25},{"g":"half","x":1117,"y":0.251},{"g":"half","x":1480,"y":0.23},{"g":"half","x":1500,"y":0.225},{"g":"half","x":1513,"y":0.22},
{"g":"whole","x":198,"y":0.245},{"g":"whole","x":202,"y":0.243},{"g":"whole","x":806,"y":0.21},{"g":"whole","x":820,"y":0.205},{"g":"whole","x":840,"y":0.2},{"g":"whole","x":1444,"y":0.215},{"g":"whole","x":1470,"y":0.21},{"g":"whole","x":1496,"y":0.202},{"g":"whole","x":1510,"y":0.205},
{"g":"other","x":1367,"y":0.225},{"g":"other","x":1375,"y":0.215},{"g":"other","x":1380,"y":0.212}
],
"cc":[
{"g":"small","x":927,"y":0.316},{"g":"small","x":1117,"y":0.306},{"g":"small","x":1289,"y":0.286},{"g":"small","x":1400,"y":0.268},{"g":"small","x":1513,"y":0.24},
{"g":"medium","x":202,"y":0.301},{"g":"medium","x":541,"y":0.291},{"g":"medium","x":1058,"y":0.276},{"g":"medium","x":1300,"y":0.262},{"g":"medium","x":1531,"y":0.245},
{"g":"quarter","x":202,"y":0.24},{"g":"quarter","x":426,"y":0.261},{"g":"quarter","x":771,"y":0.271},{"g":"quarter","x":1117,"y":0.268},{"g":"quarter","x":1350,"y":0.252},{"g":"quarter","x":1513,"y":0.23},
{"g":"half","x":202,"y":0.24},{"g":"half","x":541,"y":0.247},{"g":"half","x":1058,"y":0.248},{"g":"half","x":1300,"y":0.24},{"g":"half","x":1513,"y":0.228},
{"g":"whole","x":202,"y":0.242},{"g":"whole","x":541,"y":0.215},{"g":"whole","x":887,"y":0.203},{"g":"whole","x":1237,"y":0.202},{"g":"whole","x":1496,"y":0.21}
],
"pd":[
{"g":"No pooling","x":447,"y":0.397},{"g":"No pooling","x":457,"y":0.387},{"g":"No pooling","x":468,"y":0.362},{"g":"No pooling","x":958,"y":0.322},{"g":"No pooling","x":979,"y":0.301},{"g":"No pooling","x":1000,"y":0.313},{"g":"No pooling","x":1064,"y":0.316},{"g":"No pooling","x":1128,"y":0.333},{"g":"No pooling","x":1191,"y":0.336},{"g":"No pooling","x":1266,"y":0.311},{"g":"No pooling","x":1330,"y":0.326},{"g":"No pooling","x":1372,"y":0.377},{"g":"No pooling","x":1394,"y":0.352},{"g":"No pooling","x":1447,"y":0.306},{"g":"No pooling","x":1479,"y":0.377},{"g":"No pooling","x":1500,"y":0.352},{"g":"No pooling","x":1543,"y":0.387},{"g":"No pooling","x":1585,"y":0.362},
{"g":"No pooling","x":990,"y":0.29},{"g":"No pooling","x":1100,"y":0.32},{"g":"No pooling","x":1150,"y":0.31},{"g":"No pooling","x":1300,"y":0.3},{"g":"No pooling","x":1350,"y":0.35},{"g":"No pooling","x":1420,"y":0.35},{"g":"No pooling","x":1460,"y":0.3},{"g":"No pooling","x":1490,"y":0.3},
{"g":"No pooling","x":1520,"y":0.33},{"g":"No pooling","x":1540,"y":0.34},{"g":"No pooling","x":1560,"y":0.32},{"g":"No pooling","x":1575,"y":0.35},{"g":"No pooling","x":1590,"y":0.33},{"g":"No pooling","x":1600,"y":0.36},{"g":"No pooling","x":1610,"y":0.31},{"g":"No pooling","x":1620,"y":0.34},{"g":"No pooling","x":1630,"y":0.355},{"g":"No pooling","x":1640,"y":0.32},{"g":"No pooling","x":1650,"y":0.33},{"g":"No pooling","x":1660,"y":0.345},{"g":"No pooling","x":1670,"y":0.31},{"g":"No pooling","x":1680,"y":0.33},{"g":"No pooling","x":1690,"y":0.365},{"g":"No pooling","x":1700,"y":0.32},{"g":"No pooling","x":1710,"y":0.3},{"g":"No pooling","x":1720,"y":0.34},{"g":"No pooling","x":1730,"y":0.31},{"g":"No pooling","x":1740,"y":0.325},{"g":"No pooling","x":1750,"y":0.3},{"g":"No pooling","x":1760,"y":0.335},{"g":"No pooling","x":1770,"y":0.31},{"g":"No pooling","x":1780,"y":0.29},{"g":"No pooling","x":1790,"y":0.35},{"g":"No pooling","x":1800,"y":0.3},{"g":"No pooling","x":1810,"y":0.32},{"g":"No pooling","x":1820,"y":0.28},{"g":"No pooling","x":1830,"y":0.3},{"g":"No pooling","x":1840,"y":0.34},{"g":"No pooling","x":1850,"y":0.29},{"g":"No pooling","x":1860,"y":0.31},{"g":"No pooling","x":1870,"y":0.28},{"g":"No pooling","x":1880,"y":0.3},{"g":"No pooling","x":1890,"y":0.29},{"g":"No pooling","x":1900,"y":0.285},{"g":"No pooling","x":1910,"y":0.3},{"g":"No pooling","x":1920,"y":0.28},{"g":"No pooling","x":1930,"y":0.29},{"g":"No pooling","x":1940,"y":0.275},{"g":"No pooling","x":1950,"y":0.285},{"g":"No pooling","x":1960,"y":0.27},{"g":"No pooling","x":1980,"y":0.28},{"g":"No pooling","x":2000,"y":0.275},{"g":"No pooling","x":2020,"y":0.28},{"g":"No pooling","x":2040,"y":0.27},{"g":"No pooling","x":2060,"y":0.265},{"g":"No pooling","x":2085,"y":0.286},{"g":"No pooling","x":1600,"y":0.29},{"g":"No pooling","x":1650,"y":0.3},{"g":"No pooling","x":1700,"y":0.35},{"g":"No pooling","x":1750,"y":0.34},{"g":"No pooling","x":1800,"y":0.33},{"g":"No pooling","x":1550,"y":0.31},{"g":"No pooling","x":1620,"y":0.3},{"g":"No pooling","x":1680,"y":0.29},{"g":"No pooling","x":1560,"y":0.3},
{"g":"small","x":213,"y":0.305},{"g":"small","x":1000,"y":0.215},{"g":"small","x":1005,"y":0.22},{"g":"small","x":1564,"y":0.24},{"g":"small","x":1628,"y":0.23},{"g":"small","x":1650,"y":0.235},{"g":"small","x":1713,"y":0.256},{"g":"small","x":1740,"y":0.25},{"g":"small","x":1787,"y":0.25},{"g":"small","x":1810,"y":0.255},{"g":"small","x":1830,"y":0.258},{"g":"small","x":1870,"y":0.24},{"g":"small","x":1904,"y":0.245},{"g":"small","x":1910,"y":0.22},
{"g":"medium","x":213,"y":0.31},{"g":"medium","x":851,"y":0.281},{"g":"medium","x":872,"y":0.291},{"g":"medium","x":880,"y":0.285},{"g":"medium","x":904,"y":0.21},{"g":"medium","x":936,"y":0.255},{"g":"medium","x":958,"y":0.21},{"g":"medium","x":1400,"y":0.235},{"g":"medium","x":1450,"y":0.24},{"g":"medium","x":1500,"y":0.245},{"g":"medium","x":1543,"y":0.286},{"g":"medium","x":1574,"y":0.296},{"g":"medium","x":1600,"y":0.22},{"g":"medium","x":1617,"y":0.225},{"g":"medium","x":1670,"y":0.26},{"g":"medium","x":1700,"y":0.23},{"g":"medium","x":1713,"y":0.23},{"g":"medium","x":1740,"y":0.22},{"g":"medium","x":1766,"y":0.22},{"g":"medium","x":1800,"y":0.22},{"g":"medium","x":1840,"y":0.22},
{"g":"quarter","x":213,"y":0.311},{"g":"quarter","x":220,"y":0.305},{"g":"quarter","x":585,"y":0.286},{"g":"quarter","x":600,"y":0.28},{"g":"quarter","x":606,"y":0.265},{"g":"quarter","x":649,"y":0.251},{"g":"quarter","x":660,"y":0.255},{"g":"quarter","x":862,"y":0.265},{"g":"quarter","x":872,"y":0.276},{"g":"quarter","x":880,"y":0.27},{"g":"quarter","x":1021,"y":0.192},{"g":"quarter","x":1000,"y":0.2},{"g":"quarter","x":1457,"y":0.212},{"g":"quarter","x":1500,"y":0.21},{"g":"quarter","x":1550,"y":0.2},{"g":"quarter","x":1606,"y":0.2},{"g":"quarter","x":1670,"y":0.24},{"g":"quarter","x":1713,"y":0.205},{"g":"quarter","x":1800,"y":0.2},{"g":"quarter","x":1883,"y":0.195},{"g":"quarter","x":1904,"y":0.185},
{"g":"half","x":213,"y":0.33},{"g":"half","x":223,"y":0.326},{"g":"half","x":234,"y":0.281},{"g":"half","x":245,"y":0.27},{"g":"half","x":255,"y":0.276},{"g":"half","x":265,"y":0.26},{"g":"half","x":277,"y":0.256},{"g":"half","x":904,"y":0.208},{"g":"half","x":958,"y":0.21},{"g":"half","x":980,"y":0.2},{"g":"half","x":1053,"y":0.175},{"g":"half","x":1309,"y":0.175},{"g":"half","x":1670,"y":0.2},{"g":"half","x":1700,"y":0.21},{"g":"half","x":1850,"y":0.185},{"g":"half","x":1904,"y":0.18},
{"g":"whole","x":225,"y":0.24},{"g":"whole","x":230,"y":0.235},{"g":"whole","x":234,"y":0.24},{"g":"whole","x":240,"y":0.23},{"g":"whole","x":245,"y":0.23},{"g":"whole","x":255,"y":0.22},{"g":"whole","x":266,"y":0.215},{"g":"whole","x":989,"y":0.17},{"g":"whole","x":1000,"y":0.165},{"g":"whole","x":1053,"y":0.16},{"g":"whole","x":1777,"y":0.175},{"g":"whole","x":1820,"y":0.17},{"g":"whole","x":1904,"y":0.165},{"g":"whole","x":1910,"y":0.168},
{"g":"other","x":1574,"y":0.185},{"g":"other","x":1600,"y":0.18},{"g":"other","x":1628,"y":0.185},{"g":"other","x":1713,"y":0.18}
],
"cd":[
{"g":"small","x":213,"y":0.304},{"g":"small","x":649,"y":0.261},{"g":"small","x":1075,"y":0.241},{"g":"small","x":1500,"y":0.231},{"g":"small","x":1904,"y":0.251},
{"g":"medium","x":213,"y":0.306},{"g":"medium","x":649,"y":0.271},{"g":"medium","x":1075,"y":0.251},{"g":"medium","x":1500,"y":0.238},{"g":"medium","x":1840,"y":0.225},
{"g":"quarter","x":213,"y":0.304},{"g":"quarter","x":649,"y":0.251},{"g":"quarter","x":1075,"y":0.221},{"g":"quarter","x":1500,"y":0.208},{"g":"quarter","x":1904,"y":0.212},
{"g":"half","x":223,"y":0.291},{"g":"half","x":649,"y":0.233},{"g":"half","x":1075,"y":0.185},{"g":"half","x":1500,"y":0.175},{"g":"half","x":1904,"y":0.195},
{"g":"whole","x":234,"y":0.23},{"g":"whole","x":649,"y":0.19},{"g":"whole","x":1075,"y":0.165},{"g":"whole","x":1500,"y":0.16},{"g":"whole","x":1904,"y":0.172}
],
"pe":[
{"g":"No pooling","x":174,"y":0.407},{"g":"No pooling","x":180,"y":0.4},{"g":"No pooling","x":334,"y":0.433},{"g":"No pooling","x":350,"y":0.43},{"g":"No pooling","x":366,"y":0.387},{"g":"No pooling","x":377,"y":0.407},{"g":"No pooling","x":380,"y":0.38},{"g":"No pooling","x":408,"y":0.392},{"g":"No pooling","x":525,"y":0.382},{"g":"No pooling","x":547,"y":0.397},{"g":"No pooling","x":560,"y":0.39},{"g":"No pooling","x":579,"y":0.387},{"g":"No pooling","x":802,"y":0.519},{"g":"No pooling","x":820,"y":0.515},{"g":"No pooling","x":877,"y":0.554},{"g":"No pooling","x":887,"y":0.524},{"g":"No pooling","x":900,"y":0.5},{"g":"No pooling","x":908,"y":0.494},{"g":"No pooling","x":920,"y":0.48},{"g":"No pooling","x":930,"y":0.473},{"g":"No pooling","x":935,"y":0.46},{"g":"No pooling","x":951,"y":0.605},{"g":"No pooling","x":984,"y":0.605},{"g":"No pooling","x":994,"y":0.575},{"g":"No pooling","x":962,"y":0.544},{"g":"No pooling","x":970,"y":0.51},{"g":"No pooling","x":1000,"y":0.53},{"g":"No pooling","x":1036,"y":0.559},{"g":"No pooling","x":1122,"y":0.564},{"g":"No pooling","x":1154,"y":0.524},{"g":"No pooling","x":1228,"y":0.509},{"g":"No pooling","x":1303,"y":0.488},{"g":"No pooling","x":1335,"y":0.443},{"g":"No pooling","x":1079,"y":0.433},{"g":"No pooling","x":1143,"y":0.433},{"g":"No pooling","x":1250,"y":0.443},{"g":"No pooling","x":990,"y":0.435},{"g":"No pooling","x":1000,"y":0.43},
{"g":"No pooling","x":980,"y":0.34},{"g":"No pooling","x":1000,"y":0.31},{"g":"No pooling","x":1050,"y":0.35},{"g":"No pooling","x":1080,"y":0.34},{"g":"No pooling","x":1100,"y":0.325},{"g":"No pooling","x":1130,"y":0.36},{"g":"No pooling","x":1180,"y":0.34},{"g":"No pooling","x":1200,"y":0.43},{"g":"No pooling","x":1220,"y":0.33},{"g":"No pooling","x":1260,"y":0.42},{"g":"No pooling","x":1280,"y":0.35},{"g":"No pooling","x":1300,"y":0.41},{"g":"No pooling","x":1320,"y":0.33},{"g":"No pooling","x":1350,"y":0.45},{"g":"No pooling","x":1380,"y":0.37},{"g":"No pooling","x":1400,"y":0.38},{"g":"No pooling","x":1420,"y":0.35},{"g":"No pooling","x":1440,"y":0.39},{"g":"No pooling","x":1460,"y":0.36},{"g":"No pooling","x":1480,"y":0.4},{"g":"No pooling","x":1500,"y":0.34},{"g":"No pooling","x":1520,"y":0.37},{"g":"No pooling","x":1540,"y":0.33},{"g":"No pooling","x":1560,"y":0.36},{"g":"No pooling","x":1580,"y":0.34},{"g":"No pooling","x":1600,"y":0.38},{"g":"No pooling","x":1620,"y":0.32},{"g":"No pooling","x":1640,"y":0.35},{"g":"No pooling","x":1650,"y":0.37},{"g":"No pooling","x":1660,"y":0.33},{"g":"No pooling","x":1680,"y":0.36},{"g":"No pooling","x":1700,"y":0.32},{"g":"No pooling","x":1710,"y":0.345},{"g":"No pooling","x":1720,"y":0.33},{"g":"No pooling","x":1740,"y":0.35},{"g":"No pooling","x":1750,"y":0.31},{"g":"No pooling","x":1760,"y":0.34},{"g":"No pooling","x":1780,"y":0.32},{"g":"No pooling","x":1800,"y":0.33},{"g":"No pooling","x":1820,"y":0.31},{"g":"No pooling","x":1840,"y":0.32},{"g":"No pooling","x":1860,"y":0.3},{"g":"No pooling","x":1880,"y":0.31},{"g":"No pooling","x":1900,"y":0.33},{"g":"No pooling","x":1920,"y":0.3},{"g":"No pooling","x":1940,"y":0.31},{"g":"No pooling","x":1960,"y":0.295},{"g":"No pooling","x":1995,"y":0.291},{"g":"No pooling","x":2000,"y":0.3},{"g":"No pooling","x":2038,"y":0.281},{"g":"No pooling","x":2040,"y":0.29},{"g":"No pooling","x":1600,"y":0.31},{"g":"No pooling","x":1650,"y":0.3},{"g":"No pooling","x":1700,"y":0.35},{"g":"No pooling","x":1550,"y":0.32},{"g":"No pooling","x":1580,"y":0.3},{"g":"No pooling","x":1620,"y":0.345},{"g":"No pooling","x":1670,"y":0.34},
{"g":"small","x":1164,"y":0.316},{"g":"small","x":1180,"y":0.313},{"g":"small","x":1207,"y":0.311},{"g":"small","x":1230,"y":0.31},{"g":"small","x":1271,"y":0.321},{"g":"small","x":1292,"y":0.291},{"g":"small","x":1300,"y":0.3},{"g":"small","x":1356,"y":0.286},{"g":"small","x":1400,"y":0.28},{"g":"small","x":1463,"y":0.281},{"g":"small","x":1520,"y":0.278},{"g":"small","x":1569,"y":0.276},{"g":"small","x":1600,"y":0.27},{"g":"small","x":1650,"y":0.28},{"g":"small","x":1676,"y":0.276},{"g":"small","x":1720,"y":0.27},{"g":"small","x":1782,"y":0.276},{"g":"small","x":1820,"y":0.27},{"g":"small","x":1867,"y":0.276},
{"g":"medium","x":1015,"y":0.276},{"g":"medium","x":1040,"y":0.275},{"g":"medium","x":1058,"y":0.276},{"g":"medium","x":1100,"y":0.27},{"g":"medium","x":1122,"y":0.286},{"g":"medium","x":1164,"y":0.266},{"g":"medium","x":1200,"y":0.26},{"g":"medium","x":1228,"y":0.261},{"g":"medium","x":1260,"y":0.25},{"g":"medium","x":1313,"y":0.256},{"g":"medium","x":1569,"y":0.245},{"g":"medium","x":1600,"y":0.25},{"g":"medium","x":1650,"y":0.24},{"g":"medium","x":1676,"y":0.256},{"g":"medium","x":1700,"y":0.25},{"g":"medium","x":1750,"y":0.245},{"g":"medium","x":1782,"y":0.25},{"g":"medium","x":1800,"y":0.24},{"g":"medium","x":1825,"y":0.24},
{"g":"quarter","x":174,"y":0.397},{"g":"quarter","x":180,"y":0.38},{"g":"quarter","x":185,"y":0.367},{"g":"quarter","x":897,"y":0.22},{"g":"quarter","x":930,"y":0.215},{"g":"quarter","x":1058,"y":0.245},{"g":"quarter","x":1080,"y":0.235},{"g":"quarter","x":1100,"y":0.23},{"g":"quarter","x":1143,"y":0.235},{"g":"quarter","x":1160,"y":0.225},{"g":"quarter","x":1569,"y":0.225},{"g":"quarter","x":1600,"y":0.23},{"g":"quarter","x":1650,"y":0.22},{"g":"quarter","x":1700,"y":0.225},{"g":"quarter","x":1782,"y":0.23},{"g":"quarter","x":1800,"y":0.22},
{"g":"half","x":185,"y":0.397},{"g":"half","x":190,"y":0.39},{"g":"half","x":200,"y":0.38},{"g":"half","x":217,"y":0.362},{"g":"half","x":886,"y":0.208},{"g":"half","x":920,"y":0.215},{"g":"half","x":971,"y":0.215},{"g":"half","x":1000,"y":0.21},{"g":"half","x":1100,"y":0.21},{"g":"half","x":1130,"y":0.205},{"g":"half","x":1760,"y":0.208},{"g":"half","x":1782,"y":0.208},{"g":"half","x":1825,"y":0.21},
{"g":"whole","x":185,"y":0.382},{"g":"whole","x":195,"y":0.36},{"g":"whole","x":206,"y":0.347},{"g":"whole","x":220,"y":0.34},{"g":"whole","x":238,"y":0.316},{"g":"whole","x":245,"y":0.315},{"g":"whole","x":907,"y":0.19},{"g":"whole","x":940,"y":0.185},{"g":"whole","x":971,"y":0.18},{"g":"whole","x":1015,"y":0.185},{"g":"whole","x":1654,"y":0.195},{"g":"whole","x":1697,"y":0.19},{"g":"whole","x":1760,"y":0.185},{"g":"whole","x":1836,"y":0.19},
{"g":"other","x":1474,"y":0.208},{"g":"other","x":1548,"y":0.205},{"g":"other","x":1623,"y":0.21}
],
"ce":[
{"g":"small","x":1164,"y":0.316},{"g":"small","x":1356,"y":0.291},{"g":"small","x":1569,"y":0.279},{"g":"small","x":1867,"y":0.276},
{"g":"medium","x":1015,"y":0.278},{"g":"medium","x":1200,"y":0.258},{"g":"medium","x":1356,"y":0.249},{"g":"medium","x":1569,"y":0.242},{"g":"medium","x":1825,"y":0.245},
{"g":"quarter","x":174,"y":0.387},{"g":"quarter","x":504,"y":0.296},{"g":"quarter","x":930,"y":0.241},{"g":"quarter","x":1356,"y":0.22},{"g":"quarter","x":1825,"y":0.23},
{"g":"half","x":185,"y":0.382},{"g":"half","x":504,"y":0.281},{"g":"half","x":930,"y":0.225},{"g":"half","x":1356,"y":0.195},{"g":"half","x":1825,"y":0.21},
{"g":"whole","x":185,"y":0.377},{"g":"whole","x":504,"y":0.256},{"g":"whole","x":930,"y":0.185},{"g":"whole","x":1356,"y":0.165},{"g":"whole","x":1846,"y":0.2}
],
"pf":[
{"g":"No pooling","x":308,"y":0.5},{"g":"No pooling","x":337,"y":0.48},{"g":"No pooling","x":346,"y":0.465},{"g":"No pooling","x":510,"y":0.833},{"g":"No pooling","x":519,"y":0.721},{"g":"No pooling","x":529,"y":0.774},{"g":"No pooling","x":587,"y":0.644},{"g":"No pooling","x":625,"y":0.698},{"g":"No pooling","x":644,"y":0.615},{"g":"No pooling","x":673,"y":0.512},{"g":"No pooling","x":644,"y":1.183},{"g":"No pooling","x":721,"y":1.128},{"g":"No pooling","x":750,"y":0.972},{"g":"No pooling","x":760,"y":1.0},{"g":"No pooling","x":779,"y":1.004},{"g":"No pooling","x":740,"y":0.845},{"g":"No pooling","x":865,"y":0.996},{"g":"No pooling","x":885,"y":0.917},{"g":"No pooling","x":913,"y":0.925},{"g":"No pooling","x":894,"y":0.848},{"g":"No pooling","x":865,"y":0.821},{"g":"No pooling","x":933,"y":0.877},{"g":"No pooling","x":952,"y":0.8},{"g":"No pooling","x":971,"y":0.845},{"g":"No pooling","x":1000,"y":0.969},{"g":"No pooling","x":990,"y":0.944},{"g":"No pooling","x":1019,"y":0.853},{"g":"No pooling","x":1077,"y":0.94},{"g":"No pooling","x":1067,"y":0.742},{"g":"No pooling","x":1029,"y":0.747},{"g":"No pooling","x":1048,"y":0.703},
{"g":"No pooling","x":700,"y":0.45},{"g":"No pooling","x":720,"y":0.43},{"g":"No pooling","x":740,"y":0.5},{"g":"No pooling","x":760,"y":0.48},{"g":"No pooling","x":780,"y":0.72},{"g":"No pooling","x":790,"y":0.65},{"g":"No pooling","x":800,"y":0.68},{"g":"No pooling","x":810,"y":0.6},{"g":"No pooling","x":820,"y":0.55},{"g":"No pooling","x":830,"y":0.62},{"g":"No pooling","x":840,"y":0.47},{"g":"No pooling","x":850,"y":0.5},{"g":"No pooling","x":860,"y":0.73},{"g":"No pooling","x":870,"y":0.64},{"g":"No pooling","x":880,"y":0.58},{"g":"No pooling","x":890,"y":0.52},{"g":"No pooling","x":900,"y":0.7},{"g":"No pooling","x":910,"y":0.6},{"g":"No pooling","x":920,"y":0.55},{"g":"No pooling","x":930,"y":0.5},{"g":"No pooling","x":940,"y":0.65},{"g":"No pooling","x":950,"y":0.45},{"g":"No pooling","x":960,"y":0.58},{"g":"No pooling","x":970,"y":0.52},{"g":"No pooling","x":980,"y":0.6},{"g":"No pooling","x":990,"y":0.48},{"g":"No pooling","x":1000,"y":0.55},{"g":"No pooling","x":1010,"y":0.42},{"g":"No pooling","x":1020,"y":0.62},{"g":"No pooling","x":1030,"y":0.5},{"g":"No pooling","x":1040,"y":0.45},{"g":"No pooling","x":1050,"y":0.58},{"g":"No pooling","x":1060,"y":0.52},{"g":"No pooling","x":1070,"y":0.4},{"g":"No pooling","x":1080,"y":0.55},{"g":"No pooling","x":1090,"y":0.48},{"g":"No pooling","x":1100,"y":0.6},{"g":"No pooling","x":1110,"y":0.44},{"g":"No pooling","x":1120,"y":0.52},{"g":"No pooling","x":1130,"y":0.47},{"g":"No pooling","x":1140,"y":0.56},{"g":"No pooling","x":1150,"y":0.42},{"g":"No pooling","x":1160,"y":0.5},{"g":"No pooling","x":1170,"y":0.45},{"g":"No pooling","x":1180,"y":0.38},{"g":"No pooling","x":1190,"y":0.48},{"g":"No pooling","x":1200,"y":0.43},{"g":"No pooling","x":1210,"y":0.52},{"g":"No pooling","x":1220,"y":0.4},{"g":"No pooling","x":1230,"y":0.46},{"g":"No pooling","x":1240,"y":0.36},{"g":"No pooling","x":1250,"y":0.42},{"g":"No pooling","x":1260,"y":0.5},{"g":"No pooling","x":1270,"y":0.67},{"g":"No pooling","x":1280,"y":0.38},{"g":"No pooling","x":1290,"y":0.44},{"g":"No pooling","x":1300,"y":0.4},{"g":"No pooling","x":1310,"y":0.48},{"g":"No pooling","x":1320,"y":0.36},{"g":"No pooling","x":1330,"y":0.42},{"g":"No pooling","x":1340,"y":0.39},{"g":"No pooling","x":1350,"y":0.45},{"g":"No pooling","x":1360,"y":0.37},{"g":"No pooling","x":1370,"y":0.52},{"g":"No pooling","x":1380,"y":0.4},{"g":"No pooling","x":1390,"y":0.34},{"g":"No pooling","x":1400,"y":0.61},{"g":"No pooling","x":1410,"y":0.38},{"g":"No pooling","x":1420,"y":0.42},{"g":"No pooling","x":1430,"y":0.35},{"g":"No pooling","x":1440,"y":0.4},{"g":"No pooling","x":1450,"y":0.36},{"g":"No pooling","x":1460,"y":0.44},{"g":"No pooling","x":1470,"y":0.37},{"g":"No pooling","x":1480,"y":0.33},{"g":"No pooling","x":1490,"y":0.39},{"g":"No pooling","x":1510,"y":0.396},{"g":"No pooling","x":1530,"y":0.34},{"g":"No pooling","x":1550,"y":0.37},{"g":"No pooling","x":1587,"y":0.4},{"g":"No pooling","x":1600,"y":0.33},{"g":"No pooling","x":1625,"y":0.385},{"g":"No pooling","x":1654,"y":0.298},{"g":"No pooling","x":1702,"y":0.356},{"g":"No pooling","x":1740,"y":0.33},{"g":"No pooling","x":1760,"y":0.369},{"g":"No pooling","x":1827,"y":0.306},{"g":"No pooling","x":1865,"y":0.302},{"g":"No pooling","x":1961,"y":0.29},
{"g":"No pooling","x":650,"y":0.43},{"g":"No pooling","x":680,"y":0.38},{"g":"No pooling","x":700,"y":0.34},{"g":"No pooling","x":720,"y":0.35},{"g":"No pooling","x":760,"y":0.41},{"g":"No pooling","x":800,"y":0.37},{"g":"No pooling","x":830,"y":0.4},{"g":"No pooling","x":860,"y":0.35},{"g":"No pooling","x":900,"y":0.38},{"g":"No pooling","x":950,"y":0.36},{"g":"No pooling","x":1000,"y":0.37},{"g":"No pooling","x":1050,"y":0.35},{"g":"No pooling","x":1100,"y":0.36},{"g":"No pooling","x":1150,"y":0.34},{"g":"No pooling","x":1200,"y":0.33},
{"g":"No pooling","x":640,"y":0.68},{"g":"No pooling","x":700,"y":0.85},{"g":"No pooling","x":760,"y":0.65},{"g":"No pooling","x":820,"y":0.72},{"g":"No pooling","x":900,"y":0.73},{"g":"No pooling","x":960,"y":0.64},{"g":"No pooling","x":1050,"y":0.85},{"g":"No pooling","x":1100,"y":0.7},{"g":"No pooling","x":1150,"y":0.6},{"g":"No pooling","x":1200,"y":0.55},{"g":"No pooling","x":1030,"y":0.63},
{"g":"small","x":644,"y":0.552},{"g":"small","x":650,"y":0.54},{"g":"small","x":673,"y":0.528},{"g":"small","x":702,"y":0.488},{"g":"small","x":760,"y":0.488},{"g":"small","x":789,"y":0.456},{"g":"small","x":800,"y":0.47},{"g":"small","x":817,"y":0.345},{"g":"small","x":830,"y":0.34},{"g":"small","x":875,"y":0.4},{"g":"small","x":933,"y":0.433},{"g":"small","x":952,"y":0.417},{"g":"small","x":1029,"y":0.448},{"g":"small","x":1050,"y":0.38},{"g":"small","x":1067,"y":0.393},{"g":"small","x":1106,"y":0.353},{"g":"small","x":1120,"y":0.34},{"g":"small","x":1173,"y":0.377},{"g":"small","x":1211,"y":0.345},{"g":"small","x":1250,"y":0.33},{"g":"small","x":1298,"y":0.337},{"g":"small","x":1317,"y":0.321},
{"g":"medium","x":856,"y":0.321},{"g":"medium","x":865,"y":0.337},{"g":"medium","x":900,"y":0.31},{"g":"medium","x":913,"y":0.313},{"g":"medium","x":933,"y":0.266},{"g":"medium","x":950,"y":0.3},{"g":"medium","x":971,"y":0.306},{"g":"medium","x":1010,"y":0.258},{"g":"medium","x":1050,"y":0.3},{"g":"medium","x":1106,"y":0.321},{"g":"medium","x":1150,"y":0.3},{"g":"medium","x":1202,"y":0.302},{"g":"medium","x":1250,"y":0.29},{"g":"medium","x":1298,"y":0.313},{"g":"medium","x":1350,"y":0.29},{"g":"medium","x":1413,"y":0.29},{"g":"medium","x":1450,"y":0.28},{"g":"medium","x":1490,"y":0.274},{"g":"medium","x":1550,"y":0.27},{"g":"medium","x":1587,"y":0.271},
{"g":"quarter","x":481,"y":0.302},{"g":"quarter","x":500,"y":0.29},{"g":"quarter","x":510,"y":0.282},{"g":"quarter","x":548,"y":0.269},{"g":"quarter","x":580,"y":0.262},{"g":"quarter","x":606,"y":0.258},{"g":"quarter","x":630,"y":0.25},{"g":"quarter","x":663,"y":0.242},{"g":"quarter","x":700,"y":0.235},{"g":"quarter","x":721,"y":0.226},{"g":"quarter","x":913,"y":0.218},{"g":"quarter","x":952,"y":0.242},{"g":"quarter","x":980,"y":0.235},{"g":"quarter","x":1010,"y":0.25},{"g":"quarter","x":1050,"y":0.24},{"g":"quarter","x":1106,"y":0.226},{"g":"quarter","x":1144,"y":0.245},{"g":"quarter","x":1180,"y":0.23},{"g":"quarter","x":1221,"y":0.226},{"g":"quarter","x":1260,"y":0.235},{"g":"quarter","x":1298,"y":0.218},{"g":"quarter","x":1452,"y":0.258},{"g":"quarter","x":1490,"y":0.25},{"g":"quarter","x":1529,"y":0.258},{"g":"quarter","x":1600,"y":0.24},{"g":"quarter","x":1644,"y":0.234},{"g":"quarter","x":1673,"y":0.226},
{"g":"half","x":529,"y":0.258},{"g":"half","x":560,"y":0.245},{"g":"half","x":606,"y":0.237},{"g":"half","x":630,"y":0.23},{"g":"half","x":663,"y":0.223},{"g":"half","x":700,"y":0.215},{"g":"half","x":721,"y":0.207},{"g":"half","x":913,"y":0.191},{"g":"half","x":950,"y":0.18},{"g":"half","x":990,"y":0.171},{"g":"half","x":1010,"y":0.175},{"g":"half","x":1106,"y":0.194},{"g":"half","x":1221,"y":0.207},{"g":"half","x":1260,"y":0.179},{"g":"half","x":1298,"y":0.176},
{"g":"whole","x":663,"y":0.187},{"g":"whole","x":680,"y":0.182},{"g":"whole","x":702,"y":0.179},{"g":"whole","x":720,"y":0.172},{"g":"whole","x":740,"y":0.167},{"g":"whole","x":760,"y":0.165},{"g":"whole","x":913,"y":0.155},{"g":"whole","x":952,"y":0.139},{"g":"whole","x":971,"y":0.147},{"g":"whole","x":990,"y":0.145},{"g":"whole","x":1606,"y":0.23},{"g":"whole","x":1640,"y":0.215},{"g":"whole","x":1663,"y":0.21},{"g":"whole","x":1683,"y":0.21},
{"g":"other","x":1043,"y":0.202},{"g":"other","x":1106,"y":0.187},{"g":"other","x":1144,"y":0.179},{"g":"other","x":1183,"y":0.179}
],
"cf":[
{"g":"small","x":644,"y":0.536},{"g":"small","x":817,"y":0.433},{"g":"small","x":1010,"y":0.369},{"g":"small","x":1202,"y":0.345},{"g":"small","x":1336,"y":0.356},
{"g":"medium","x":856,"y":0.306},{"g":"medium","x":1106,"y":0.29},{"g":"medium","x":1298,"y":0.279},{"g":"medium","x":1587,"y":0.266},
{"g":"quarter","x":481,"y":0.271},{"g":"quarter","x":721,"y":0.242},{"g":"quarter","x":1106,"y":0.226},{"g":"quarter","x":1394,"y":0.234},{"g":"quarter","x":1683,"y":0.263},
{"g":"half","x":529,"y":0.258},{"g":"half","x":721,"y":0.213},{"g":"half","x":1010,"y":0.179},{"g":"half","x":1298,"y":0.182},{"g":"half","x":1683,"y":0.218},
{"g":"whole","x":663,"y":0.183},{"g":"whole","x":913,"y":0.155},{"g":"whole","x":1106,"y":0.144},{"g":"whole","x":1394,"y":0.155},{"g":"whole","x":1683,"y":0.218}
]
},
"config":{
 "font":"Liberation Sans",
 "background":"white",
 "view":{"fill":"#EBEBEB","stroke":null},
 "axis":{"domain":false,"grid":true,"gridColor":"#FFFFFF","gridOpacity":1,"tickColor":"#333333","tickWidth":1,"labelFont":"Liberation Sans","labelFontSize":12.3,"labelFontWeight":"bold","labelColor":"#4D4D4D","titleFont":"Liberation Sans","titleFontSize":15,"titleFontWeight":"bold","titleColor":"#000000","labelFlush":false,"labelOverlap":false},
 "axisX":{"tickSize":3.5,"labelPadding":2.5,"titlePadding":2},
 "axisY":{"tickSize":4,"labelPadding":2,"titlePadding":3},
 "legend":{"orient":"top-right","offset":1,"fillColor":"#FFFFFF","padding":6,"labelFont":"Liberation Sans","labelFontSize":12.8,"labelColor":"#000000","symbolSize":225,"symbolStrokeWidth":0,"symbolOpacity":1,"labelOffset":8,"rowPadding":3.4,"titleFontSize":5,"titlePadding":2},
 "title":{"orient":"bottom","anchor":"middle","font":"Liberation Serif","subtitleFont":"Liberation Serif","fontSize":25,"subtitleFontSize":25,"fontWeight":"bold","subtitleFontWeight":"normal","color":"#000000","subtitleColor":"#000000","subtitlePadding":-25,"offset":24}
}
}
